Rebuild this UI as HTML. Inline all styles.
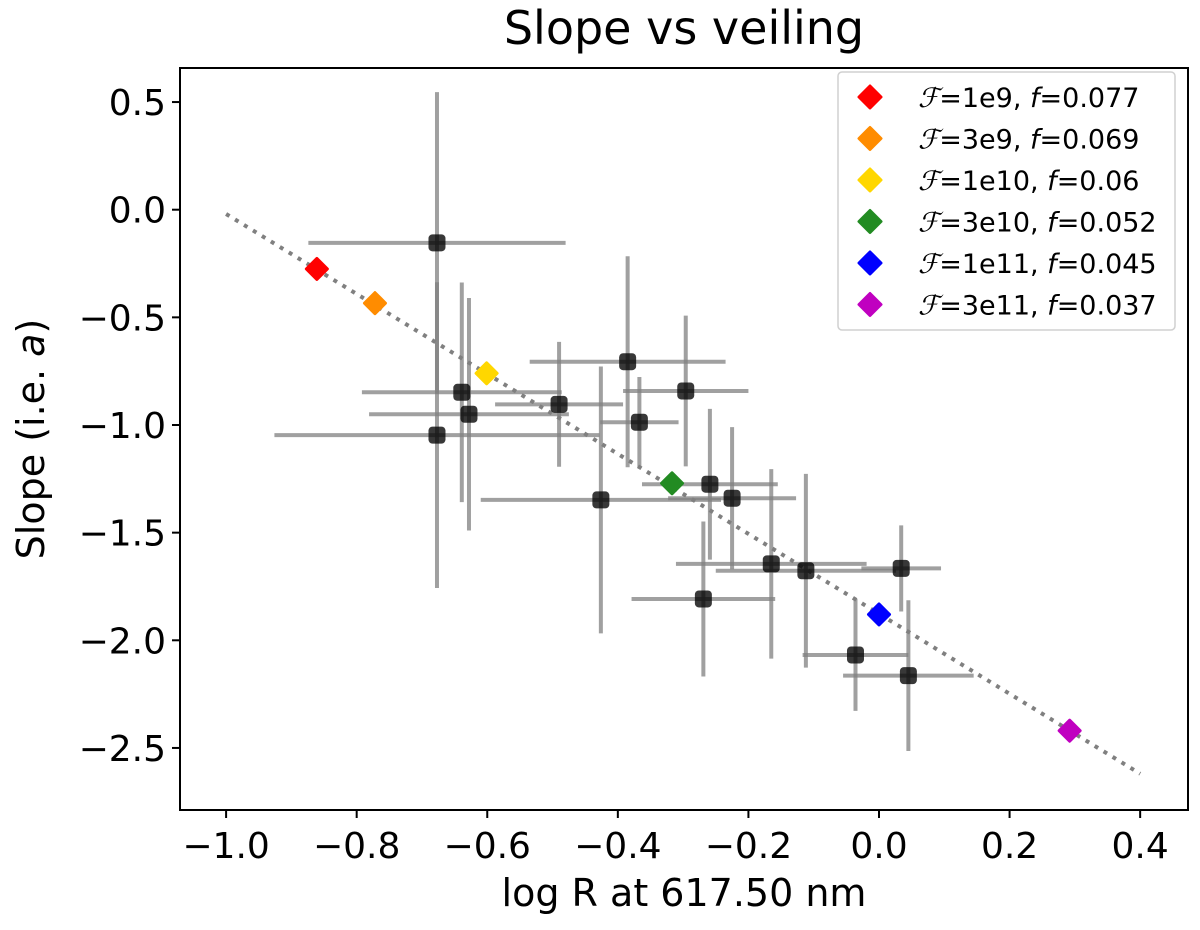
<!DOCTYPE html>
<html><head><meta charset="utf-8"><style>
body{margin:0;background:#fff;}
svg text{font-family:"DejaVu Sans","Liberation Sans",sans-serif;fill:#000;}
</style></head><body>
<svg id="chart" width="1200" height="925" viewBox="0 0 1200 925" xmlns="http://www.w3.org/2000/svg">
<text x="684" y="44" font-size="46" text-anchor="middle">Slope vs veiling</text>
<text x="684" y="906" font-size="38" text-anchor="middle">log R at 617.50 nm</text>
<text transform="translate(44,439) rotate(-90)" font-size="38" text-anchor="middle">Slope (i.e. <tspan font-style="italic">a</tspan>)</text>
<g id="plot"></g>
<rect x="180" y="68" width="1008" height="742" fill="none" stroke="#000" stroke-width="2"/>
<g id="ticks"></g>
<g id="legend"></g>
</svg>
<script>
const obsX=[-0.677,-0.677,-0.639,-0.628,-0.490,-0.426,-0.385,-0.296,-0.367,-0.259,-0.225,-0.165,-0.112,0.034,-0.269,-0.036,0.045];
const obsY=[-0.154,-1.047,-0.848,-0.950,-0.904,-1.348,-0.706,-0.842,-0.987,-1.275,-1.340,-1.645,-1.677,-1.666,-1.808,-2.068,-2.164];
const obsXerr=[0.197,0.249,0.153,0.153,0.098,0.184,0.150,0.096,0.060,0.104,0.098,0.146,0.138,0.061,0.110,0.081,0.10];
const obsYerr=[0.70,0.71,0.51,0.54,0.29,0.62,0.49,0.35,0.21,0.35,0.33,0.44,0.45,0.20,0.36,0.26,0.35];
const modelX=[-0.861,-0.772,-0.601,-0.317,0.0,0.292];
const modelY=[-0.275,-0.434,-0.760,-1.271,-1.880,-2.420];
const modelColors=["#ff0000","#ff8c00","#ffd700","#228b22","#0000ff","#c000c0"];
const modelF=["1e9","3e9","1e10","3e10","1e11","3e11"];
const modelf=["0.077","0.069","0.06","0.052","0.045","0.037"];
const fitIntercept=-1.877, fitSlope=-1.857, fitRange=[-1.0,0.4];
const xTicks=[-1.0,-0.8,-0.6,-0.4,-0.2,0.0,0.2,0.4];
const yTicks=[0.5,0.0,-0.5,-1.0,-1.5,-2.0,-2.5];

const NS="http://www.w3.org/2000/svg";
const sx=v=>879+v*652.9, sy=v=>209.7-v*215.3;
function mk(tag,attrs,parent){const e=document.createElementNS(NS,tag);for(const k in attrs)e.setAttribute(k,attrs[k]);parent.appendChild(e);return e;}
const plot=document.getElementById('plot'), ticks=document.getElementById('ticks'), legend=document.getElementById('legend');

const fl=mk('line',{x1:sx(fitRange[0]),y1:sy(fitIntercept+fitSlope*fitRange[0]),x2:sx(fitRange[1]),y2:sy(fitIntercept+fitSlope*fitRange[1]),stroke:'#808080','stroke-width':4,'stroke-dasharray':'4 6.5'},plot);



for(let i=0;i<obsX.length;i++){
  const g=mk('g',{},plot);
  
  
  mk('line',{x1:sx(obsX[i]-obsXerr[i]),x2:sx(obsX[i]+obsXerr[i]),y1:sy(obsY[i]),y2:sy(obsY[i]),stroke:'#808080','stroke-opacity':0.75,'stroke-width':4},g);
  mk('line',{x1:sx(obsX[i]),x2:sx(obsX[i]),y1:sy(obsY[i]-obsYerr[i]),y2:sy(obsY[i]+obsYerr[i]),stroke:'#808080','stroke-opacity':0.75,'stroke-width':4},g);
}
for(let i=0;i<obsX.length;i++){
  const r=mk('rect',{x:sx(obsX[i])-8.5,y:sy(obsY[i])-8.5,width:17,height:17,rx:4,fill:'#000','fill-opacity':0.78},plot);
  
  
}
function diamond(cx,cy,s,color,parent){return mk('polygon',{points:`${cx},${cy-s} ${cx+s},${cy} ${cx},${cy+s} ${cx-s},${cy}`,fill:color,stroke:color,'stroke-width':3,'stroke-linejoin':'round'},parent);}
for(let i=0;i<modelX.length;i++){
  const d=diamond(sx(modelX[i]),sy(modelY[i]),10.5,modelColors[i],plot);
  
  
}
xTicks.forEach(v=>{
  const x=sx(v);
  mk('line',{x1:x,x2:x,y1:810,y2:818,stroke:'#000','stroke-width':2},ticks);
  const t=mk('text',{x:x,y:858,'font-size':36,'text-anchor':'middle'},ticks);
  t.textContent=(v<0?'\u2212':'')+Math.abs(v).toFixed(1);
  
  
});
yTicks.forEach(v=>{
  const y=sy(v);
  mk('line',{x1:172,x2:180,y1:y,y2:y,stroke:'#000','stroke-width':2},ticks);
  const t=mk('text',{x:166,y:y+13,'font-size':36,'text-anchor':'end'},ticks);
  t.textContent=(v<0?'\u2212':'')+Math.abs(v).toFixed(1);
  
  
});
const box=mk('rect',{x:838,y:72,width:337,height:258,rx:4,fill:'#fff','fill-opacity':0.85,stroke:'#d0d0d0','stroke-width':1.5},legend);


for(let i=0;i<modelF.length;i++){
  const y=97+i*41.5;
  const g=mk('g',{},legend);
  
  
  diamond(870,y,11,modelColors[i],g);
  const t=mk('text',{x:918,y:y+10,'font-size':27},g);
  t.innerHTML=`<tspan font-family="Liberation Serif,serif" font-style="italic">ℱ</tspan>=${modelF[i]}, <tspan font-style="italic">f</tspan>=${modelf[i]}`;
}
</script>
</body></html>
